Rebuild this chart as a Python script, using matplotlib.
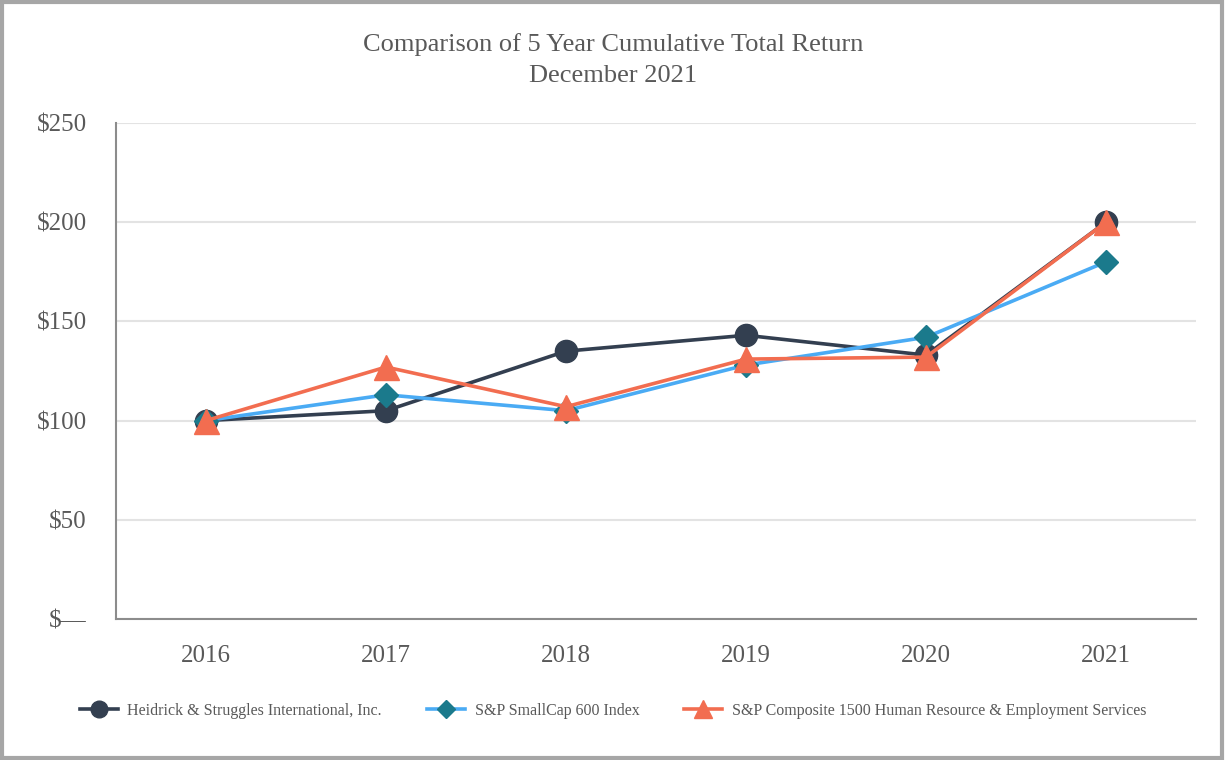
import matplotlib
matplotlib.use("Agg")
import matplotlib.pyplot as plt
from matplotlib.patches import Rectangle

# ─── Data ────────────────────────────────────────────────────────────────────
years = [2016, 2017, 2018, 2019, 2020, 2021]
heidrick = [100, 105, 135, 143, 133, 200]
smallcap = [100, 113, 105, 128, 142, 180]
composite = [100, 127, 107, 131, 132, 200]
y_ticks = [0, 50, 100, 150, 200, 250]
y_labels = ["$\u2014", "$50", "$100", "$150", "$200", "$250"]

plt.rcParams["font.family"] = ["Liberation Serif", "DejaVu Serif"]
text_color = "#595959"

fig = plt.figure(figsize=(12.26, 7.6), dpi=100)
ax = fig.add_axes([116 / 1226, 1 - 619 / 760, 1080 / 1226, 496 / 760])

ax.plot(years, heidrick, color="#333f50", linewidth=2.6, marker="o",
        markersize=16, label="Heidrick & Struggles International, Inc.", zorder=3)
ax.plot(years, smallcap, color="#4aabf4", linewidth=2.6, marker="D",
        markersize=12, markerfacecolor="#1b7a8c", markeredgecolor="#1b7a8c",
        label="S&P SmallCap 600 Index", zorder=4)
ax.plot(years, composite, color="#f26d50", linewidth=2.6, marker="^",
        markersize=18, label="S&P Composite 1500 Human Resource & Employment Services",
        zorder=5)

ax.set_xlim(2015.5, 2021.5)
ax.set_ylim(0, 250)
ax.set_xticks(years)
ax.set_xticklabels([str(y) for y in years])
ax.set_yticks(y_ticks)
ax.set_yticklabels(y_labels)
ax.tick_params(axis="both", length=0, labelsize=18, labelcolor=text_color)
ax.tick_params(axis="x", pad=19)
ax.tick_params(axis="y", pad=21)

ax.grid(axis="y", color="#e3e3e3", linewidth=1.5)
ax.set_axisbelow(True)
for side in ("top", "right"):
    ax.spines[side].set_visible(False)
for side in ("left", "bottom"):
    ax.spines[side].set_color("#8c8c8c")
    ax.spines[side].set_linewidth(1.5)

fig.text(0.5, 1 - 45 / 760, "Comparison of 5 Year Cumulative Total Return",
         ha="center", va="center", fontsize=19, color=text_color)
fig.text(0.5, 1 - 76 / 760, "December 2021",
         ha="center", va="center", fontsize=19, color=text_color)

leg = fig.legend(loc="center", bbox_to_anchor=(613 / 1226, 1 - 711 / 760), ncol=3,
                 frameon=False, fontsize=11.5, handlelength=2.4, columnspacing=2.8,
                 markerscale=0.75, handletextpad=0.6)
for t in leg.get_texts():
    t.set_color(text_color)

fig.patches.append(Rectangle((0.002, 0.003), 0.995, 0.994, transform=fig.transFigure,
                             fill=False, edgecolor="#a6a6a6", linewidth=3))

fig.savefig("out.png", dpi=100)
